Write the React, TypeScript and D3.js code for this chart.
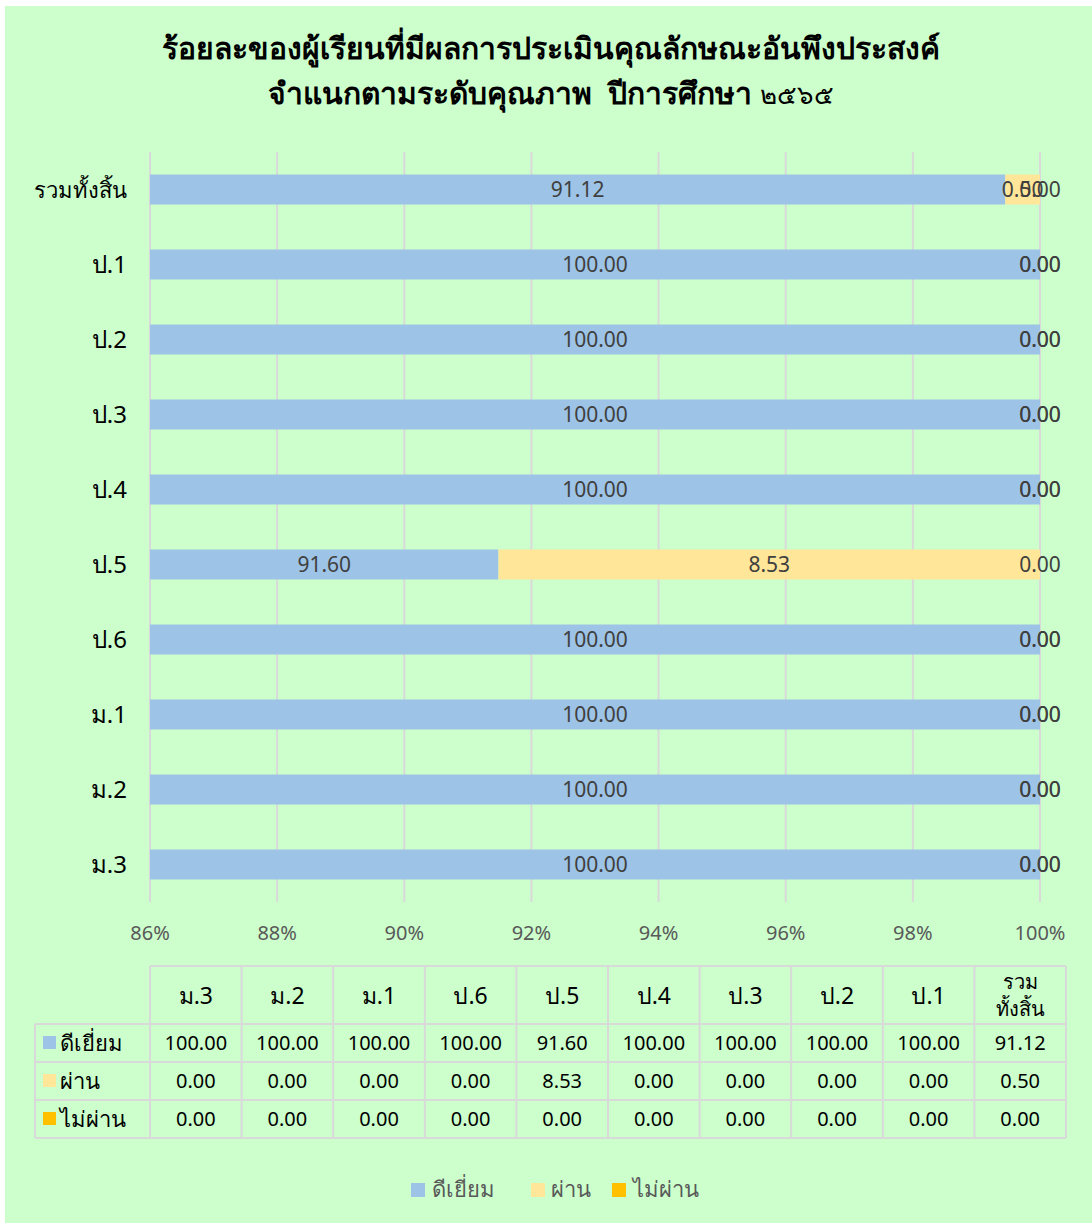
import React from "react";
import * as d3 from "d3";

const categories = ["ม.3", "ม.2", "ม.1", "ป.6", "ป.5", "ป.4", "ป.3", "ป.2", "ป.1", "รวมทั้งสิ้น"];
const excellent = [100.0, 100.0, 100.0, 100.0, 91.6, 100.0, 100.0, 100.0, 100.0, 91.12];
const passed = [0.0, 0.0, 0.0, 0.0, 8.53, 0.0, 0.0, 0.0, 0.0, 0.5];
const failed = [0.0, 0.0, 0.0, 0.0, 0.0, 0.0, 0.0, 0.0, 0.0, 0.0];
const seriesNames = ["ดีเยี่ยม", "ผ่าน", "ไม่ผ่าน"];
const seriesColors = ["#9DC3E6", "#FFE699", "#FFC000"];
const xTicks = [0.86, 0.88, 0.9, 0.92, 0.94, 0.96, 0.98, 1.0];
const titleLine1 = "ร้อยละของผู้เรียนที่มีผลการประเมินคุณลักษณะอันพึงประสงค์";
const titleLine2a = "จำแนกตามระดับคุณภาพ  ปีการศึกษา ";
const titleLine2b = "๒๕๖๕";

const FONT = "Tahoma, 'Noto Sans', 'DejaVu Sans', sans-serif";

export default function App() {
  const W = 1092, H = 1223;
  const plotL = 150, plotR = 1040, plotT = 152, plotB = 902;
  const x = d3.scaleLinear().domain([0.86, 1]).range([plotL, plotR]);
  const yOrder = [...categories].reverse();
  const y = d3.scaleBand<string>().domain(yOrder).range([plotT, plotB]).paddingInner(0.6).paddingOuter(0.3);

  const rows = categories.map((c, i) => ({ cat: c, s0: excellent[i], s1: passed[i], s2: failed[i] }));
  const stack = d3.stack<any>().keys(["s0", "s1", "s2"]).offset(d3.stackOffsetExpand);
  const stacked = stack(rows);
  const allValues = [excellent, passed, failed];

  // table
  const tableL = 150, tableR = 1066, headL = 35;
  const colW = (tableR - tableL) / categories.length;
  const rowYs = [966, 1024, 1062, 1100, 1138];
  const gridC = "#D9D9D9";

  return (
    <svg width={W} height={H} style={{ position: "absolute", left: 0, top: 0 }} fontFamily={FONT}>
      <rect x={5} y={6} width={W - 5} height={H - 6} fill="#CCFFCC" />
      <text x={551} y={59} textAnchor="middle" fontSize={30} fontWeight="bold" fill="#000">{titleLine1}</text>
      <text x={551} y={104} textAnchor="middle" fontSize={30} fontWeight="bold" fill="#000" style={{ whiteSpace: "pre" }}>
        {titleLine2a}<tspan fontWeight="normal" fontSize={26}>{titleLine2b}</tspan>
      </text>
      <defs>
        <clipPath id="plotclip"><rect x={plotL} y={plotT} width={plotR - plotL} height={plotB - plotT} /></clipPath>
      </defs>
      {xTicks.map((t) => (
        <line key={t} x1={x(t)} x2={x(t)} y1={plotT} y2={plotB} stroke={gridC} strokeWidth={2} />
      ))}
      {xTicks.map((t) => (
        <text key={"l" + t} x={x(t)} y={940} textAnchor="middle" fontSize={20} fill="#595959">{Math.round(t * 100) + "%"}</text>
      ))}
      <g clipPath="url(#plotclip)">
        {stacked.map((s, si) => s.map((d, i) => {
          const x0 = x(Math.max(d[0], 0.86)), x1 = x(d[1]);
          return <rect key={si + "-" + i} x={x0} y={y(categories[i])!} width={Math.max(0, x1 - x0)} height={y.bandwidth()} fill={seriesColors[si]} />;
        }))}
      </g>
      {stacked.map((s, si) => s.map((d, i) => {
        const x0 = x(Math.max(d[0], 0.86)), x1 = x(d[1]);
        return <text key={"t" + si + "-" + i} x={(x0 + x1) / 2} y={y(categories[i])! + y.bandwidth() / 2 + 7} textAnchor="middle" fontSize={21} fill="#404040">{allValues[si][i].toFixed(2)}</text>;
      }))}
      {categories.map((c) => (
        <text key={"c" + c} x={127} y={y(c)! + y.bandwidth() / 2 + 8} textAnchor="end" fontSize={c === "รวมทั้งสิ้น" ? 22 : 24} fill="#000">{c}</text>
      ))}
      {/* data table */}
      <g stroke={gridC} strokeWidth={2}>
        <line x1={tableL} x2={tableR} y1={rowYs[0]} y2={rowYs[0]} />
        {rowYs.slice(1).map((ry) => <line key={ry} x1={headL} x2={tableR} y1={ry} y2={ry} />)}
        <line x1={headL} x2={headL} y1={rowYs[1]} y2={rowYs[4]} />
        {d3.range(categories.length + 1).map((k) => (
          <line key={k} x1={tableL + k * colW} x2={tableL + k * colW} y1={rowYs[0]} y2={rowYs[4]} />
        ))}
      </g>
      {categories.map((c, k) => {
        const cx = tableL + (k + 0.5) * colW;
        if (c === "รวมทั้งสิ้น") {
          return (
            <g key={"h" + c}>
              <text x={cx} y={989} textAnchor="middle" fontSize={20} fill="#000">รวม</text>
              <text x={cx} y={1016} textAnchor="middle" fontSize={20} fill="#000">ทั้งสิ้น</text>
            </g>
          );
        }
        return <text key={"h" + c} x={cx} y={1004} textAnchor="middle" fontSize={23} fill="#000">{c}</text>;
      })}
      {allValues.map((vals, si) => (
        <g key={"r" + si}>
          <rect x={43} y={(rowYs[si + 1] + rowYs[si + 2]) / 2 - 7} width={13} height={13} fill={seriesColors[si]} />
          <text x={60} y={(rowYs[si + 1] + rowYs[si + 2]) / 2 + 8} fontSize={22} fill="#000">{seriesNames[si]}</text>
          {vals.map((v, k) => (
            <text key={k} x={tableL + (k + 0.5) * colW} y={(rowYs[si + 1] + rowYs[si + 2]) / 2 + 7} textAnchor="middle" fontSize={20} fill="#000">{v.toFixed(2)}</text>
          ))}
        </g>
      ))}
      {/* legend */}
      {[{ sx: 411, tx: 432 }, { sx: 531, tx: 551 }, { sx: 612, tx: 633 }].map((p, si) => (
        <g key={"lg" + si}>
          <rect x={p.sx} y={1183} width={14} height={14} fill={seriesColors[si]} />
          <text x={p.tx} y={1197} fontSize={22} fill="#595959">{seriesNames[si]}</text>
        </g>
      ))}
    </svg>
  );
}
